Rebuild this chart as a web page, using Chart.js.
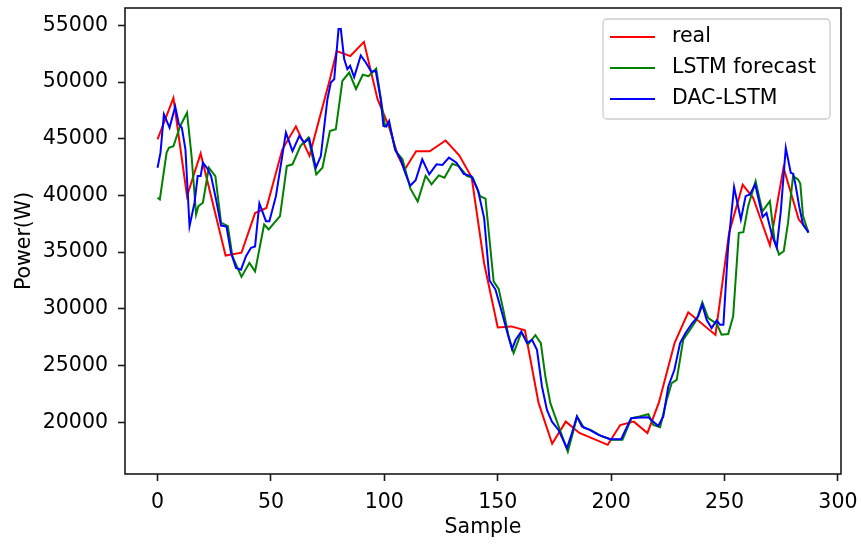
<!DOCTYPE html>
<html><head><meta charset="utf-8">
<script src="https://cdn.jsdelivr.net/npm/chart.js@4.4.1/dist/chart.umd.min.js"></script>
<style>html,body{margin:0;padding:0;background:#fff;}#wrap{width:861px;height:545px;}</style>
</head><body><div id="wrap"><canvas id="c" width="861" height="545"></canvas></div>
<script>
const seriesNames = ['real', 'LSTM forecast', 'DAC-LSTM'];
const seriesColors = ['#ff0000', '#008000', '#0000ff'];

const realX = [0, 7, 13, 19, 30, 37, 43, 48, 55, 61, 67, 76, 79, 85, 91, 97, 102, 106, 109, 114, 120, 127, 133, 138.5, 144, 150, 156, 162, 168, 174, 180, 186, 198.5, 204, 210, 216, 221, 228, 234, 246, 252, 258, 262.6, 270, 276, 282.7, 287];
const realY = [44950, 48600, 39950, 43700, 34700, 34950, 38450, 38900, 44050, 46100, 43500, 50250, 52750, 52300, 53550, 48500, 46100, 43500, 42300, 43900, 43900, 44850, 43550, 41600, 34000, 28360, 28450, 28100, 21700, 18100, 20050, 19050, 18000, 19750, 20050, 19050, 21700, 27000, 29700, 27700, 36700, 40950, 39800, 35600, 42450, 37900, 36850];

const lstmX = [0, 1, 4, 5, 7, 10, 13, 15, 17, 18, 20, 22.6, 25.5, 28, 31, 33, 37, 40.5, 43, 47, 49, 54, 57, 59.5, 63, 66.5, 70, 72.7, 76, 78.6, 81.5, 84.5, 87.5, 90.5, 93, 96.4, 100.3, 102, 105, 108, 111.5, 114.7, 118.2, 120.8, 124, 126.5, 130, 132.8, 136.5, 139, 142.2, 144.6, 146.8, 148.2, 150.4, 152.6, 154.8, 157, 160.4, 163.6, 166.6, 169, 171, 173.2, 175.4, 178, 180.9, 182.7, 185, 188, 191, 195.9, 200.3, 205, 209, 212.5, 216.4, 218.6, 221.6, 224.5, 226.7, 228.9, 231.8, 234.8, 237.7, 240.2, 242.8, 246.5, 248.7, 251.6, 253.8, 256.3, 258.3, 260.4, 263.7, 266.7, 270, 272, 274, 276.1, 278, 280.2, 282.4, 283.4, 284.6, 287];
const lstmY = [39800, 39650, 43780, 44200, 44350, 46130, 47300, 43480, 38330, 39060, 39360, 42450, 41700, 37600, 37300, 34640, 32820, 34060, 33310, 37440, 37000, 38180, 42600, 42750, 44360, 45100, 41860, 42450, 45690, 45840, 50110, 50850, 49400, 50650, 50530, 51200, 46130, 46400, 43920, 43190, 40600, 39480, 41740, 40980, 41770, 41570, 42800, 42600, 41700, 41570, 39940, 39720, 35230, 32430, 31760, 29780, 27570, 26100, 27920, 26920, 27680, 26980, 24030, 21680, 20450, 19000, 17400, 18730, 20500, 19500, 19320, 18760, 18460, 18460, 20350, 20500, 20700, 19760, 19560, 21970, 23450, 23740, 27280, 28160, 29040, 30570, 29190, 28690, 27720, 27780, 29340, 36710, 36760, 39060, 41270, 38600, 39500, 36100, 34790, 35080, 37600, 41710, 41420, 41050, 38180, 36700];

const dacX = [0, 1.3, 2.8, 5.3, 7.8, 9.4, 10.7, 12.3, 14.1, 16.3, 17.7, 19, 20, 22, 23.6, 25.8, 28, 30.4, 32.4, 34.6, 36.8, 39, 41.2, 43, 44.9, 47.8, 49.3, 52.2, 56.6, 59.5, 62.5, 64.7, 66.9, 69.8, 72, 74.9, 76.4, 77.9, 79.8, 80.8, 82.3, 83.7, 84.9, 86.7, 89.6, 91.8, 94.3, 96.2, 98.4, 99.6, 100.9, 102.1, 104.7, 107.2, 109.2, 111.4, 113.8, 116.7, 119.8, 123, 125.6, 128.5, 131.8, 135, 138.4, 141.3, 144, 146.4, 149, 151.9, 154.1, 156.3, 157.9, 160.4, 162.9, 165.1, 167.3, 169.5, 171.7, 173.9, 176.8, 180.5, 182.7, 184.9, 187.1, 190.5, 194.4, 199.6, 204.4, 208.8, 212.7, 216.4, 218.6, 220.8, 223, 225.2, 227.9, 230.4, 232.8, 235.8, 238.4, 240.2, 242.1, 244.3, 246.5, 248, 249.5, 251.6, 254.2, 257.2, 259.3, 261.2, 263.5, 266.8, 268.5, 271, 273, 274.8, 277, 279.2, 280.3, 281.4, 282.9, 284.6, 287];
const dacY = [42450, 43780, 47170, 45990, 47850, 46280, 45990, 44070, 37290, 39360, 41710, 41710, 42900, 42370, 41710, 39650, 37350, 37260, 34940, 33610, 33460, 34640, 35380, 35500, 39300, 37730, 37730, 39940, 45550, 43920, 45250, 44660, 45020, 42450, 43480, 48490, 49970, 50260, 54680, 54680, 52030, 51140, 51440, 50450, 52350, 51730, 50910, 51000, 48490, 46130, 46070, 46570, 44070, 43190, 42000, 40860, 41350, 43190, 41860, 42750, 42690, 43340, 42900, 41900, 41690, 40460, 38000, 32500, 31700, 29640, 28010, 26450, 27270, 28010, 26980, 27270, 26390, 23150, 21090, 20050, 19320, 17700, 19030, 20500, 19620, 19320, 18880, 18500, 18500, 20350, 20410, 20440, 20050, 19670, 20500, 23150, 24620, 26980, 27870, 28750, 29340, 30370, 29040, 28310, 28980, 28600, 28600, 35520, 40750, 37880, 39940, 40090, 40980, 38100, 38450, 36450, 35400, 38600, 44200, 42010, 41900, 40830, 39060, 37440, 36750];

const xTicks = [0, 50, 100, 150, 200, 250, 300];
const yTicks = [20000, 25000, 30000, 35000, 40000, 45000, 50000, 55000];

const FONT = "'DejaVu Sans', sans-serif";
const FS = 20.5;
Chart.defaults.font.family = FONT;
Chart.defaults.font.size = FS;
Chart.defaults.color = '#000';

function pts(xs, ys) { return xs.map((x, i) => ({x: x, y: ys[i]})); }

const frame = {
  id: 'frame',
  afterDraw(chart) {
    const {ctx, chartArea: a} = chart;
    ctx.save();
    ctx.strokeStyle = '#1a1a1a';
    ctx.lineWidth = 1.6;
    ctx.strokeRect(a.left, a.top, a.right - a.left, a.bottom - a.top);
    ctx.restore();
  }
};

const legendBox = {
  id: 'legendBox',
  afterDraw(chart) {
    const ctx = chart.ctx;
    const bx = 603, by = 19, bw = 227, bh = 100, r = 4;
    ctx.save();
    ctx.beginPath();
    ctx.moveTo(bx + r, by);
    ctx.arcTo(bx + bw, by, bx + bw, by + bh, r);
    ctx.arcTo(bx + bw, by + bh, bx, by + bh, r);
    ctx.arcTo(bx, by + bh, bx, by, r);
    ctx.arcTo(bx, by, bx + bw, by, r);
    ctx.closePath();
    ctx.fillStyle = 'rgba(255,255,255,0.8)';
    ctx.fill();
    ctx.strokeStyle = '#cccccc';
    ctx.lineWidth = 1.3;
    ctx.stroke();
    const rows = [37, 68, 99];
    chart.data.datasets.forEach((ds, i) => {
      const y = rows[i];
      ctx.beginPath();
      ctx.moveTo(610, y);
      ctx.lineTo(655, y);
      ctx.strokeStyle = ds.borderColor;
      ctx.lineWidth = 2;
      ctx.stroke();
      ctx.fillStyle = '#000';
      ctx.font = FS + 'px ' + FONT;
      ctx.textBaseline = 'middle';
      ctx.textAlign = 'left';
      ctx.fillText(ds.label, 672, y);
    });
    ctx.restore();
  }
};

const datasets = [
  {label: seriesNames[0], data: pts(realX, realY), borderColor: seriesColors[0], order: 2},
  {label: seriesNames[1], data: pts(lstmX, lstmY), borderColor: seriesColors[1], order: 1},
  {label: seriesNames[2], data: pts(dacX, dacY), borderColor: seriesColors[2], order: 0}
].map(d => Object.assign(d, {borderWidth: 2, pointRadius: 0, tension: 0, fill: false}));

function zeroPad(s) { s.paddingTop = 0; s.paddingBottom = 0; s.paddingLeft = 0; s.paddingRight = 0; }

new Chart(document.getElementById('c'), {
  type: 'line',
  data: {datasets: datasets},
  options: {
    responsive: false,
    devicePixelRatio: 1,
    animation: false,
    layout: {padding: {top: 8, right: 20, left: 0, bottom: 0}},
    plugins: {legend: {display: false}, tooltip: {enabled: false}},
    scales: {
      x: {
        type: 'linear', min: -14.35, max: 301.35,
        afterBuildTicks: s => { s.ticks = xTicks.map(v => ({value: v})); },
        afterFit: s => { s.height = 71; zeroPad(s); },
        grid: {drawOnChartArea: false, drawTicks: true, tickLength: 7, tickColor: '#1a1a1a', tickWidth: 1.6},
        border: {display: false},
        ticks: {padding: 9, maxRotation: 0, callback: v => String(v)},
        title: {display: true, text: 'Sample', padding: {top: 0, bottom: 5}}
      },
      y: {
        type: 'linear', min: 15430, max: 56540,
        afterBuildTicks: s => { s.ticks = yTicks.map(v => ({value: v})); },
        afterFit: s => { s.width = 125; zeroPad(s); },
        grid: {drawOnChartArea: false, drawTicks: true, tickLength: 7, tickColor: '#1a1a1a', tickWidth: 1.6},
        border: {display: false},
        ticks: {padding: 10, callback: v => String(v)},
        title: {display: true, text: 'Power(W)', padding: {top: 12, bottom: 0}}
      }
    }
  },
  plugins: [frame, legendBox]
});
</script>
</body></html>
